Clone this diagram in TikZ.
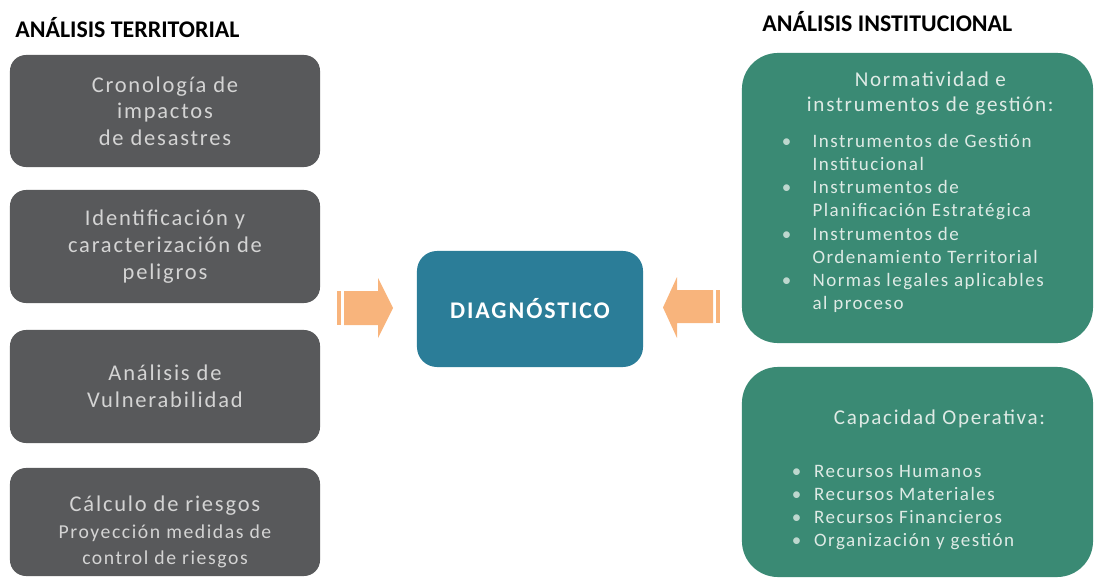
\documentclass[tikz,border=0pt]{standalone}
\usepackage{fontspec}
\setmainfont{Carlito}
\newfontfamily\espaciada[LetterSpace=8]{Carlito}
\usetikzlibrary{positioning}

\definecolor{grisbox}{RGB}{88,89,91}
\definecolor{verdebox}{RGB}{58,138,116}
\definecolor{azulbox}{RGB}{43,125,152}
\definecolor{naranja}{RGB}{248,180,124}
\definecolor{textogris}{RGB}{212,212,212}
\definecolor{textoverde}{RGB}{222,234,229}

\tikzset{
  territorial/.style={fill=grisbox, rounded corners=0.4cm, text=textogris, align=center,
    minimum width=7.75cm, inner sep=0pt, font=\espaciada\fontsize{16}{19}\selectfont},
  institucional/.style={fill=verdebox, rounded corners=0.9cm, minimum width=8.775cm, inner sep=0pt},
  titulo/.style={font=\bfseries\fontsize{17}{20}\selectfont, anchor=west, inner sep=0pt},
  encabezado/.style={text=textoverde, align=center, inner sep=0pt,
    font=\espaciada\fontsize{15}{18}\selectfont},
  lista/.style={text=textoverde, inner sep=0pt, font=\espaciada\fontsize{13.5}{16.5}\selectfont},
  flecha/.style={fill=naranja, draw=none},
}
\newcommand{\vin}{{\color{textoverde!80!verdebox}\textbullet}}

\begin{document}
\begin{tikzpicture}[x=0.025cm, y=-0.025cm]
\useasboundingbox (0,0) rectangle (1094,578);

% Titulos
\node[titulo] (tterr) at (15,28) {ANÁLISIS TERRITORIAL};
\node[titulo] (tinst) at (762,22) {ANÁLISIS INSTITUCIONAL};

% Analisis territorial
\node[territorial, minimum height=2.8cm] (crono) at (165,111) {Cronología de\\impactos\\de desastres};
\node[territorial, minimum height=2.825cm] (peligro) at (165,246.5) {Identificación y\\caracterización de\\peligros};
\node[territorial, minimum height=2.825cm] (vulner) at (165,386.5) {Análisis de\\Vulnerabilidad};
\node[territorial, minimum height=2.7cm] (riesgo) at (165,522) {};
\node[text=textogris, align=center, inner sep=0pt, font=\espaciada\fontsize{16}{19}\selectfont]
  (riesgotxt) at (165,532) {Cálculo de riesgos\\\fontsize{14}{17}\selectfont Proyección medidas de\\\fontsize{14}{17}\selectfont control de riesgos};

% Diagnostico
\node[fill=azulbox, rounded corners=0.5cm, minimum width=5.65cm, minimum height=2.9cm,
  text=white, font=\espaciada\bfseries\fontsize{17}{20}\selectfont] (diag) at (530,309) {DIAGNÓSTICO};

% Analisis institucional
\node[institucional, minimum height=7.25cm] (norm) at (917.5,198) {};
\node[encabezado, below=0.46cm of norm.north, xshift=0.32cm] (normtit)
  {Normatividad e\\instrumentos de gestión:};
\node[lista, below right=1.95cm and 1.0cm of norm.north west] (normlis) {%
  \begin{tabular}{@{}l@{\hspace{15pt}}l@{}}
  \vin & Instrumentos de Gestión\\
       & Institucional\\
  \vin & Instrumentos de\\
       & Planificación Estratégica\\
  \vin & Instrumentos de\\
       & Ordenamiento Territorial\\
  \vin & Normas legales aplicables\\
       & al proceso
  \end{tabular}};

\node[institucional, minimum height=5.25cm] (capac) at (917.5,472) {};
\node[encabezado, below=1.06cm of capac.north, xshift=0.55cm] (capactit) {Capacidad Operativa:};
\node[lista, below right=2.35cm and 1.25cm of capac.north west] (capaclis) {%
  \begin{tabular}{@{}l@{\hspace{9pt}}l@{}}
  \vin & Recursos Humanos\\
  \vin & Recursos Materiales\\
  \vin & Recursos Financieros\\
  \vin & Organización y gestión
  \end{tabular}};

% Flechas
\fill[flecha] (337,291) rectangle (341,325);
\fill[flecha] (344,291) -- (378,291) -- (378,278) -- (393,308) -- (378,338) -- (378,325) -- (344,325) -- cycle;
\fill[flecha] (716,290) rectangle (720,323);
\fill[flecha] (713,290) -- (677,290) -- (677,277) -- (663,307.5) -- (677,338) -- (677,323) -- (713,323) -- cycle;

\end{tikzpicture}
\end{document}
